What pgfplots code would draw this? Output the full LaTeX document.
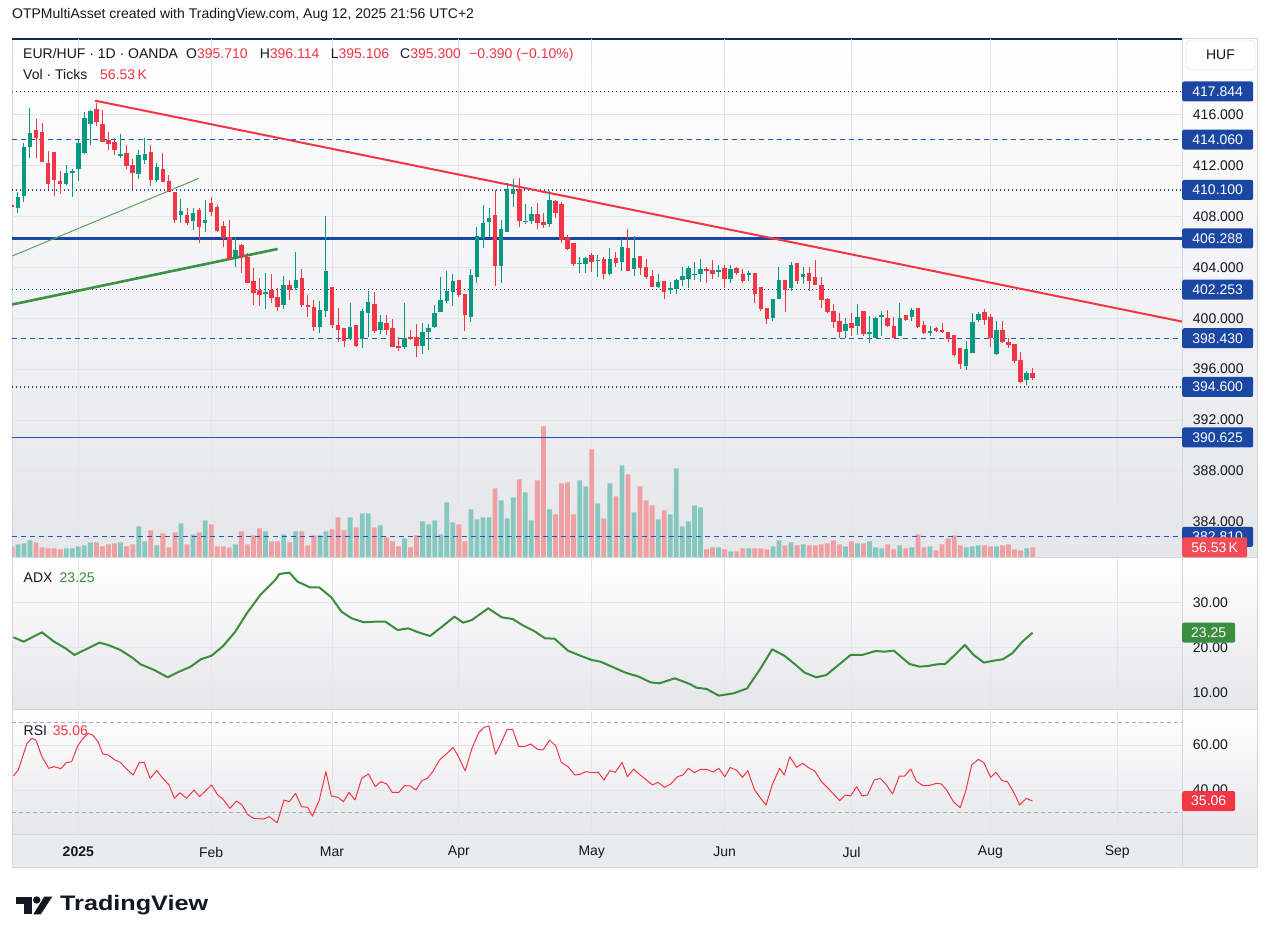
\documentclass[border=0pt]{standalone}
\usepackage{pgfplots}
\pgfplotsset{compat=1.18}
\usepackage{pgfplotstable}
\usepackage{fontspec}
\setmainfont{Liberation Sans}
\definecolor{cup}{HTML}{089981}
\definecolor{cdn}{HTML}{F23645}
\definecolor{vup}{HTML}{86C8BF}
\definecolor{vdn}{HTML}{EEA0A2}
\definecolor{hl}{HTML}{1A47A3}
\definecolor{hlb}{HTML}{1F55C2}
\definecolor{txt}{HTML}{131722}
\definecolor{gridc}{HTML}{E2E4E9}
\definecolor{paneb}{HTML}{E5E6E9}
\definecolor{adxc}{HTML}{388E3C}
\definecolor{sepc}{HTML}{D4D6DC}
\definecolor{tagg}{HTML}{3B8E3F}
\definecolor{tagr}{HTML}{F23645}
\definecolor{tlgreen}{HTML}{3E9142}
\definecolor{bandc}{HTML}{A9ACB4}
\newcommand{\fs}[1]{\fontsize{#1}{#1}\selectfont}

\pgfplotstableread{
k o h l c v
-1 408.89 408.95 408.70 408.73 62.2
0 408.71 409.96 408.31 409.57 73.8
1 409.62 413.77 409.18 413.48 79.7
2 413.51 416.57 412.61 414.58 97.2
3 414.82 415.68 412.64 414.21 85.5
4 414.66 415.37 412.30 412.33 56.3
5 412.22 413.16 410.17 410.59 50.5
6 413.09 413.09 409.65 410.91 50.5
7 410.83 411.59 409.81 410.59 44.7
8 410.57 412.06 410.49 411.43 50.5
9 411.41 411.72 409.57 411.62 50.5
10 411.77 414.03 410.83 413.82 62.2
11 413.03 416.21 412.96 415.76 68.0
12 415.32 416.35 413.66 416.31 85.5
13 416.47 416.92 415.16 415.47 85.5
14 415.29 416.39 413.85 413.90 62.2
15 414.03 414.69 413.27 413.74 73.8
16 413.90 414.16 412.85 413.27 79.7
17 412.75 414.50 412.61 412.93 85.5
18 413.01 413.61 411.77 411.98 62.2
19 412.06 412.51 410.15 411.46 73.8
20 411.38 413.24 410.96 412.85 178.8
21 412.48 414.16 412.17 412.93 91.3
22 413.09 413.64 410.44 410.91 155.4
23 410.91 412.19 410.75 411.91 68.0
24 411.75 413.03 410.70 410.75 138.0
25 410.80 411.28 409.92 409.96 56.3
26 409.91 409.91 407.53 407.76 143.8
27 408.15 409.39 407.50 408.44 196.2
28 408.13 408.65 407.34 407.47 73.8
29 407.68 408.65 406.97 408.29 132.1
30 408.52 408.65 405.95 407.21 143.8
31 407.53 409.31 406.82 407.74 213.7
32 409.07 409.52 408.05 408.39 190.4
33 408.78 408.92 406.82 406.90 62.2
34 407.26 407.68 405.64 406.35 62.2
35 406.37 407.74 404.60 404.64 56.3
36 404.72 406.37 404.06 405.37 73.8
37 405.77 405.82 403.54 404.80 149.6
38 404.85 405.11 402.75 402.80 73.8
39 402.94 403.93 401.05 402.02 126.3
40 402.23 403.20 400.99 401.83 167.1
41 401.94 403.54 400.76 402.07 149.6
42 402.23 403.49 401.18 401.62 91.3
43 401.68 402.36 400.60 400.92 91.3
44 401.05 403.33 400.71 402.62 132.1
45 402.62 403.01 401.44 402.23 85.5
46 402.41 405.24 402.23 403.01 149.6
47 403.17 403.88 400.92 401.05 149.6
48 401.05 401.83 400.13 400.92 68.0
49 400.92 401.44 399.03 399.34 126.3
50 399.34 401.39 398.87 400.65 126.3
51 400.57 408.05 400.13 403.72 149.6
52 402.49 402.49 399.21 399.47 161.3
53 399.47 400.78 398.11 399.08 231.2
54 399.26 399.26 397.72 398.24 155.4
55 398.40 401.20 398.29 399.32 231.2
56 399.47 399.47 397.77 397.85 172.9
57 398.35 400.71 397.69 400.57 254.5
58 400.44 402.15 398.55 401.28 254.5
59 401.13 402.04 398.82 399.00 172.9
60 399.08 400.26 398.76 399.71 184.6
61 399.63 400.29 398.66 399.08 114.6
62 399.24 399.94 397.72 397.77 91.3
63 397.82 398.50 397.43 397.69 62.2
64 397.77 401.20 397.56 398.42 108.8
65 398.53 399.08 398.29 398.42 56.3
66 398.53 399.55 396.93 397.82 126.3
67 397.82 399.60 397.19 398.92 207.9
68 398.95 399.55 397.51 399.24 190.4
69 399.29 401.05 399.26 400.39 213.7
70 400.52 403.22 400.50 401.44 132.1
71 401.39 403.75 401.23 402.17 318.7
72 402.10 403.49 400.99 402.94 202.1
73 403.01 403.01 401.70 401.83 190.4
74 401.91 401.91 399.03 400.26 91.3
75 400.13 403.88 399.74 403.41 277.8
76 403.28 407.21 402.80 406.48 219.6
77 406.29 408.92 405.51 407.47 231.2
78 407.60 408.65 406.42 407.87 231.2
79 408.13 410.10 402.57 404.14 400.3
80 404.14 407.74 402.75 407.00 330.3
81 406.82 410.62 406.80 410.15 225.4
82 409.78 410.94 408.78 410.17 347.8
83 410.17 411.01 407.16 407.68 452.7
84 407.58 408.97 407.42 407.66 376.9
85 407.68 408.78 407.42 408.21 213.7
86 408.21 409.05 407.03 407.53 446.9
87 407.58 408.26 407.11 407.37 761.7
88 407.42 410.04 407.16 409.31 277.8
89 409.23 409.31 407.87 408.31 248.7
90 409.02 409.15 405.93 406.19 429.4
91 406.40 406.55 405.37 405.45 435.2
92 405.93 405.93 404.12 404.25 248.7
93 404.28 404.80 403.59 404.36 446.9
94 404.25 404.85 403.59 404.75 411.9
95 404.98 405.11 403.67 404.46 627.6
96 404.53 404.98 403.22 404.61 312.8
97 404.67 404.85 403.12 403.49 225.4
98 403.51 405.51 403.38 404.67 429.4
99 404.75 405.24 404.06 404.38 353.6
100 404.46 406.27 403.75 405.61 534.3
101 405.56 407.00 403.70 403.75 481.9
102 403.91 406.48 403.33 404.77 260.4
103 404.90 404.90 403.41 403.98 411.9
104 404.01 404.67 403.07 403.28 330.3
105 403.33 403.80 402.45 402.49 301.2
106 402.49 403.46 402.36 402.86 219.6
107 402.94 402.94 401.52 402.10 272.0
108 402.25 402.88 401.91 402.38 248.7
109 402.31 403.07 401.91 403.01 516.8
110 403.01 404.04 402.57 403.33 178.8
111 403.12 404.12 402.41 403.98 207.9
112 403.44 404.40 403.01 403.52 301.2
113 403.46 404.64 402.83 403.88 289.5
114 403.88 404.04 402.80 403.75 44.7
115 403.83 404.56 403.12 403.51 56.3
116 403.67 404.19 403.28 403.80 56.3
117 403.93 404.19 402.41 403.12 44.7
118 403.12 404.17 402.80 403.91 33.0
119 403.98 404.04 403.41 403.54 33.0
120 403.49 403.91 402.75 402.96 50.5
121 403.43 403.75 402.94 403.59 50.5
122 403.54 403.54 401.18 401.91 50.5
123 402.46 402.46 400.57 400.71 50.5
124 400.81 400.81 399.58 399.97 44.7
125 400.05 401.55 399.81 401.52 62.2
126 401.54 404.04 401.50 403.01 97.2
127 403.01 403.01 400.52 402.20 68.0
128 402.38 404.40 402.17 404.19 85.5
129 404.35 404.35 402.70 402.94 68.0
130 403.28 404.06 402.67 403.49 73.8
131 403.59 404.06 402.17 402.94 68.0
132 403.28 404.59 402.60 402.65 68.0
133 402.62 403.28 400.84 401.44 73.8
134 401.52 401.57 400.44 400.50 79.7
135 400.57 401.13 399.21 399.74 97.2
136 399.79 400.44 398.42 398.95 73.8
137 399.00 400.00 398.42 399.55 62.2
138 399.63 400.39 398.61 399.26 91.3
139 399.42 401.13 398.69 400.13 79.7
140 400.57 400.57 398.61 398.79 79.7
141 398.74 400.18 398.08 398.95 91.3
142 398.48 400.13 398.42 400.02 56.3
143 400.13 400.57 398.63 400.26 50.5
144 400.02 400.65 399.34 399.42 73.8
145 399.37 400.08 398.42 398.48 44.7
146 398.63 401.23 398.60 400.02 68.0
147 400.26 400.26 399.79 399.89 50.5
148 400.08 400.84 399.79 400.65 56.3
149 400.81 400.81 399.26 399.34 132.1
150 399.47 399.79 398.76 398.84 56.3
151 398.89 399.42 398.63 398.97 62.2
152 399.21 399.34 398.90 399.00 38.9
153 399.05 399.60 398.82 398.95 73.8
154 398.95 398.95 398.11 398.37 108.8
155 398.69 398.69 397.03 397.11 126.3
156 397.64 397.64 396.01 396.40 68.0
157 396.27 398.24 395.93 397.58 56.3
158 397.30 400.44 397.25 399.74 62.2
159 399.84 400.52 399.74 400.34 68.0
160 400.52 400.73 399.47 399.87 68.0
161 400.10 400.31 397.77 398.48 62.2
162 397.19 399.81 397.11 399.08 62.2
163 399.08 399.76 398.03 398.14 68.0
164 398.14 398.48 397.64 397.90 73.8
165 397.98 397.98 396.51 396.64 44.7
166 396.72 397.37 394.88 395.01 38.9
167 395.17 395.88 394.75 395.70 50.5
168 395.710 396.114 395.106 395.300 56.53
}\candles

\pgfplotstableread{
k a
-0.73 22.21
0.96 21.25
3.97 23.33
5.99 21.25
7.90 19.77
9.35 18.29
11.03 19.40
13.49 21.03
14.95 20.51
16.97 19.40
18.86 17.77
20.32 16.21
22.56 14.96
24.80 13.33
26.70 14.59
28.61 15.70
30.28 17.33
32.07 18.14
33.98 20.29
35.99 23.47
37.90 27.55
40.13 31.62
42.60 34.96
43.27 36.29
44.95 36.59
46.29 34.59
48.31 33.33
49.87 33.33
51.89 31.10
53.56 27.92
55.25 26.44
57.27 25.55
59.17 25.70
60.84 25.70
62.86 23.84
64.65 24.21
66.44 23.25
68.23 22.51
70.36 24.73
72.27 26.81
73.72 25.48
75.17 26.07
77.86 28.66
80.10 26.66
81.89 26.29
83.79 24.73
85.46 23.62
87.27 21.99
88.83 21.92
91.07 19.25
93.08 18.14
94.98 17.18
96.44 16.81
98.34 15.70
100.58 14.36
102.81 13.47
104.72 12.22
106.18 11.99
108.76 13.10
111.22 11.85
112.33 11.03
114.02 10.74
116.03 9.26
118.49 9.77
120.73 10.88
122.96 15.33
124.87 19.55
126.89 18.14
128.58 16.29
130.25 14.36
132.16 13.33
133.83 13.84
135.85 16.07
137.86 18.29
139.77 18.29
142.00 19.18
143.46 19.03
145.02 19.25
147.60 16.29
149.27 15.70
150.63 15.84
152.07 16.21
153.53 16.29
155.10 18.29
156.77 20.51
158.23 18.29
159.92 16.59
161.59 17.04
163.05 17.33
164.62 18.66
166.29 21.25
167.98 23.25
}\adx

\pgfplotstableread{
k r
-0.72 46.37
0.06 48.89
1.51 60.74
2.30 62.96
2.97 62.22
3.98 54.82
5.10 49.63
5.99 50.37
7.11 49.48
8.01 52.15
8.90 52.59
9.91 59.70
10.69 62.52
11.59 65.19
12.37 64.45
13.27 61.48
14.05 56.00
14.95 55.56
16.07 53.33
16.96 52.30
17.86 49.63
19.09 46.67
20.10 52.15
20.88 52.30
21.89 45.19
23.01 48.59
23.90 45.48
25.02 42.22
25.92 36.30
26.81 38.81
27.93 36.30
29.16 40.00
30.06 37.04
32.07 42.22
33.08 37.78
33.98 35.85
35.10 31.85
36.21 35.11
37.11 33.33
38.01 29.18
39.01 27.41
40.69 27.11
41.59 28.15
42.93 25.48
44.05 35.56
44.95 34.81
45.95 38.52
46.96 32.59
47.97 32.30
48.75 28.44
49.87 35.26
50.99 48.15
51.89 37.33
53.01 36.74
53.90 34.81
54.80 38.96
55.80 35.56
56.92 45.19
58.04 47.11
59.16 41.48
60.06 43.70
61.07 42.67
61.96 38.96
63.08 38.96
63.98 41.93
64.98 41.78
65.88 40.00
66.89 44.15
67.78 45.19
68.68 48.15
69.80 53.33
70.92 56.00
72.04 58.96
72.93 54.82
74.05 48.44
75.17 58.52
76.29 65.48
77.19 67.85
77.97 68.44
79.09 55.85
80.10 61.48
80.99 66.96
81.89 66.96
82.90 59.26
83.79 59.26
84.91 60.44
86.03 58.07
86.92 57.78
88.04 62.22
89.05 59.56
89.95 52.30
91.07 50.37
92.19 46.67
93.08 46.96
93.98 48.15
95.10 47.70
96.10 47.85
97.00 44.44
98.01 48.59
98.90 47.85
100.02 52.30
100.92 45.93
101.93 49.33
102.82 47.11
103.94 44.74
105.06 42.22
105.95 43.41
107.07 41.19
108.08 42.67
109.20 45.93
110.10 46.67
110.99 49.63
112.00 47.70
113.01 49.19
114.01 49.19
115.13 48.00
116.03 49.63
117.04 45.93
117.93 50.07
119.05 48.59
119.95 45.63
120.84 48.59
121.96 40.00
122.97 36.30
123.86 33.33
124.87 42.22
126.10 49.63
126.89 46.67
127.78 54.82
128.90 50.07
129.91 51.85
130.80 50.07
131.92 48.44
133.04 43.70
134.16 40.74
135.06 38.07
136.07 35.26
136.96 37.78
137.86 37.33
138.86 41.48
139.76 37.33
140.66 37.78
141.77 44.44
142.78 45.19
143.68 42.67
144.80 38.22
145.92 46.22
146.81 46.22
147.82 49.33
148.71 44.00
149.83 41.93
150.95 42.07
152.07 42.96
152.86 42.67
153.75 40.00
154.87 34.81
155.99 32.15
156.89 39.26
157.90 51.11
159.01 53.63
159.91 52.15
161.03 45.63
161.92 47.85
162.93 44.15
163.83 43.70
164.95 38.52
165.84 33.33
166.96 36.30
167.97 35.06
}\rsi

\pgfplotsset{
  pane/.style={
    scale only axis, width=1170pt, xmin=-0.977, xmax=192.72,
    axis line style={draw=none}, major tick length=0pt,
    clip mode=individual,
    xtick={10,32,52,73,95,117,138,161,182},
    grid=major, major grid style={gridc, line width=0.8pt},
    yticklabel pos=right,
    ticklabel style={font=\fs{14}, text=txt},
    yticklabel style={anchor=west, xshift=7.4pt},
  },
  nox/.style={xticklabels={{},{},{},{},{},{},{},{},{}}},
  ovl/.style={scale only axis, width=1170pt, xmin=-0.977, xmax=192.72, hide axis, clip mode=individual},
  candle/.style={only marks, mark size=0pt, mark options={draw=none, fill=none},
     error bars/.cd, y dir=both, y explicit, error mark=none},
}
\tikzset{
  tag/.style={anchor=west, inner sep=0pt, minimum height=20pt, rounded corners=2pt, text=white, font=\fs{14}},
  hdot/.style={hl, line width=1.3pt, dash pattern=on 1.3pt off 2.7pt},
  hdash/.style={hlb, line width=1.3pt, dash pattern=on 5pt off 4pt},
  lbl/.style={anchor=base west, inner sep=0pt, font=\fs{14}, text=txt},
}

\begin{document}
\begin{tikzpicture}[x=1pt,y=1pt]
\useasboundingbox (0,0) rectangle (1271,944);
\fill[white] (0,0) rectangle (1271,944);
% pane backgrounds
\shade[top color=white, bottom color=paneb] (12,387) rectangle (1257,905);
\shade[top color=white, bottom color=paneb] (12,235) rectangle (1257,385);
\shade[top color=white, bottom color=paneb] (12,109) rectangle (1257,233);
\fill[paneb!80!white] (12,76) rectangle (1257,109);
% separators
\draw[sepc, line width=1pt] (12,386) -- (1257,386);
\draw[sepc, line width=1pt] (12,234) -- (1257,234);
\draw[sepc, line width=1pt] (12,109) -- (1257,109);
\draw[sepc, line width=1pt] (1182,76) -- (1182,905);
\draw[sepc, line width=1pt] (12,76) rectangle (1257,905);
\draw[hl!60!black, line width=1.4pt] (12,905) -- (1182,905);

% main pane: grid, price scale, tags
\begin{axis}[pane, nox, at={(12pt,387pt)}, anchor=south west, height=518pt,
  ymin=381.22, ymax=421.97, ytick={384,388,392,396,400,404,408,412,416},
  yticklabels={384.000,388.000,392.000,396.000,400.000,404.000,408.000,412.000,416.000}]
  \node[tag, fill=hl, minimum width=71pt] at (axis cs:192.72,417.844) {417.844};
  \node[tag, fill=hl, minimum width=71pt] at (axis cs:192.72,414.060) {414.060};
  \node[tag, fill=hl, minimum width=71pt] at (axis cs:192.72,410.100) {410.100};
  \node[tag, fill=hl, minimum width=71pt] at (axis cs:192.72,406.288) {406.288};
  \node[tag, fill=hl, minimum width=71pt] at (axis cs:192.72,402.253) {402.253};
  \node[tag, fill=hl, minimum width=71pt] at (axis cs:192.72,398.430) {398.430};
  \node[tag, fill=hl, minimum width=71pt] at (axis cs:192.72,394.600) {394.600};
  \node[tag, fill=hl, minimum width=71pt] at (axis cs:192.72,390.625) {390.625};
  \node[tag, fill=hl, minimum width=71pt] at (axis cs:192.72,382.810) {382.810};
\end{axis}

% volume
\begin{axis}[ovl, at={(12pt,387pt)}, anchor=south west, height=518pt, ymin=0, ymax=3020]
  \addplot[ybar, bar width=4.8pt, bar shift=0pt, fill=vup, draw=none]
    table[x=k, y expr={\thisrow{c}>=\thisrow{o} ? \thisrow{v} : nan}] {\candles};
  \addplot[ybar, bar width=4.8pt, bar shift=0pt, fill=vdn, draw=none]
    table[x=k, y expr={\thisrow{c}<\thisrow{o} ? \thisrow{v} : nan}] {\candles};
  \node[tag, fill=tagr!90!white, minimum width=65pt] at (axis cs:192.72,56.53) {56.53\,K};
\end{axis}

% price lines, trend lines, candles
\begin{axis}[ovl, at={(12pt,387pt)}, anchor=south west, height=518pt, ymin=381.22, ymax=421.97]
  \addplot[hdot] coordinates {(-1,417.844) (193,417.844)};
  \addplot[hdash] coordinates {(-1,414.060) (193,414.060)};
  \addplot[hdot] coordinates {(-1,410.100) (193,410.100)};
  \addplot[hl, line width=2.6pt] coordinates {(-1,406.288) (193,406.288)};
  \addplot[hdot] coordinates {(-1,402.253) (193,402.253)};
  \addplot[hdash] coordinates {(-1,398.430) (193,398.430)};
  \addplot[hdot] coordinates {(-1,394.600) (193,394.600)};
  \addplot[hlb, line width=1.3pt] coordinates {(-1,390.625) (193,390.625)};
  \addplot[hdash] coordinates {(-1,382.810) (193,382.810)};
  \addplot[tlgreen!85, line width=1pt] coordinates {(-0.977,404.89) (29.98,411.01)};
  \addplot[tlgreen, line width=2.6pt] coordinates {(-0.977,401.08) (43.0,405.45)};
  \addplot[cdn, line width=2pt] coordinates {(12.77,417.12) (192.72,399.74)};
  % wicks
  \addplot[candle, error bar style={draw=cup, line width=1pt}]
    table[x=k, y expr={\thisrow{c}>=\thisrow{o} ? 0.5*(\thisrow{h}+\thisrow{l}) : nan},
      y error expr={0.5*(\thisrow{h}-\thisrow{l})}] {\candles};
  \addplot[candle, error bar style={draw=cdn, line width=1pt}]
    table[x=k, y expr={\thisrow{c}<\thisrow{o} ? 0.5*(\thisrow{h}+\thisrow{l}) : nan},
      y error expr={0.5*(\thisrow{h}-\thisrow{l})}] {\candles};
  % bodies
  \addplot[candle, error bar style={draw=cup, line width=4.5pt}]
    table[x=k, y expr={\thisrow{c}>=\thisrow{o} ? 0.5*(\thisrow{o}+\thisrow{c}) : nan},
      y error expr={max(0.5*abs(\thisrow{o}-\thisrow{c}),0.04)}] {\candles};
  \addplot[candle, error bar style={draw=cdn, line width=4.5pt}]
    table[x=k, y expr={\thisrow{c}<\thisrow{o} ? 0.5*(\thisrow{o}+\thisrow{c}) : nan},
      y error expr={max(0.5*abs(\thisrow{o}-\thisrow{c}),0.04)}] {\candles};
\end{axis}

% ADX pane
\begin{axis}[pane, nox, at={(12pt,235pt)}, anchor=south west, height=150pt,
  ymin=6.29, ymax=39.62, ytick={10,20,30}, yticklabels={10.00,20.00,30.00}]
  \addplot[adxc, line width=2pt, line join=round] table[x=k, y=a] {\adx};
  \node[tag, fill=tagg, minimum width=53pt] at (axis cs:192.72,23.25) {23.25};
\end{axis}

% RSI pane
\begin{axis}[pane, at={(12pt,109pt)}, anchor=south west, height=124pt,
  ymin=20, ymax=75.11, ytick={40,60}, yticklabels={40.00,60.00},
  xticklabels={\textbf{2025},Feb,Mar,Apr,May,Jun,Jul,Aug,Sep},
  xticklabel style={anchor=center, yshift=-17pt}]
  \addplot[bandc, line width=1pt, dash pattern=on 4pt off 3pt] coordinates {(-1,70) (193,70)};
  \addplot[bandc, line width=1pt, dash pattern=on 4pt off 3pt] coordinates {(-1,30) (193,30)};
  \addplot[cdn, line width=1pt, line join=round] table[x=k, y=r] {\rsi};
  \node[tag, fill=tagr, minimum width=53pt] at (axis cs:192.72,35.06) {35.06};
\end{axis}

% texts
\node[lbl] at (12,925) {OTPMultiAsset created with TradingView.com, Aug 12, 2025 21:56 UTC+2};
\node[lbl] at (23,885) {EUR/HUF · 1D · OANDA};
\node[lbl] at (186,885) {O\textcolor{cdn}{395.710}};
\node[lbl] at (259.6,885) {H\textcolor{cdn}{396.114}};
\node[lbl] at (330.6,885) {L\textcolor{cdn}{395.106}};
\node[lbl] at (400,885) {C\textcolor{cdn}{395.300}};
\node[lbl] at (469,885) {\textcolor{cdn}{−0.390 (−0.10\%)}};
\node[lbl] at (23,864) {Vol · Ticks};
\node[lbl] at (100,864) {\textcolor{cdn}{56.53\,K}};
\node[lbl] at (23.5,361) {ADX};
\node[lbl] at (59.5,361) {\textcolor{adxc}{23.25}};
\node[lbl] at (23.5,208) {RSI};
\node[lbl] at (52.7,208) {\textcolor{cdn}{35.06}};
\node[draw=sepc, fill=white, rounded corners=5pt, minimum width=69pt, minimum height=30pt,
  font=\fs{14}, text=txt, inner sep=0pt] at (1220.5,889) {HUF};

% logo
\fill[txt] (16,47.3) rectangle (31.7,40);
\fill[txt] (24.3,40.5) rectangle (31.7,29.7);
\fill[txt] (36.7,44) circle (3.7);
\fill[txt] (33.3,29.7) -- (40.7,29.7) -- (52.3,47.3) -- (44.3,47.3) -- cycle;
\node[anchor=base west, inner sep=0pt, text=txt] at (60,33) {\scalebox{1.2}[1]{\bfseries\fs{21}TradingView}};
\end{tikzpicture}
\end{document}
